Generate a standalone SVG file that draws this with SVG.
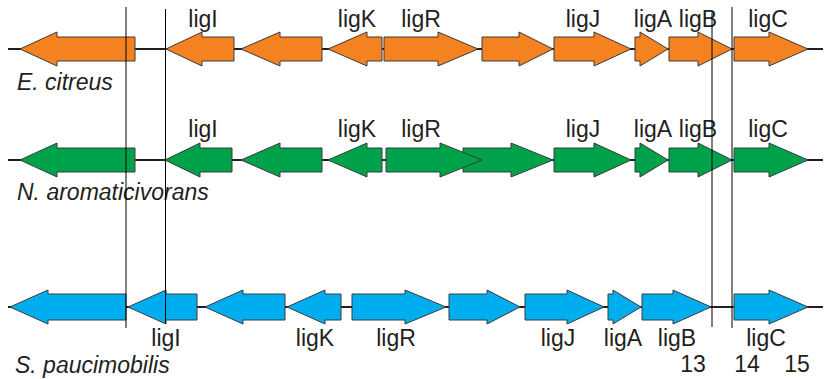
<svg xmlns="http://www.w3.org/2000/svg" width="824" height="379" viewBox="0 0 824 379">
<style>
.bb{stroke:#231f20;stroke-width:2;fill:none}
.vl{stroke:#000;stroke-width:1;fill:none}
.gene path{stroke:#3a3a3a;stroke-width:1;stroke-linejoin:miter}
.o path{fill:#f58220}
.g path{fill:#00a14b}
.b path{fill:#00aeef}
text{font-family:"Liberation Sans",Arial,sans-serif;font-size:23px;fill:#231f20}
.lab{text-anchor:middle}
.sp{font-style:italic}
</style>
<rect width="824" height="379" fill="#fff"/>
<g id="connectors">
<line class="bb" x1="8" y1="49" x2="823" y2="49"/>
<line class="bb" x1="8" y1="160" x2="823" y2="160"/>
<line class="bb" x1="8" y1="307" x2="823" y2="307"/>
</g>
<g id="row1" class="o">
<g id="ec1" class="gene"><path d="M20,49 L57,32 L57,37 L135,37 L135,61 L57,61 L57,66 Z"/></g>
<g id="ec-ligI" class="gene"><path d="M166,49 L202,32 L202,37 L234,37 L234,61 L202,61 L202,66 Z"/><text class="lab" x="203" y="27">ligI</text></g>
<g id="ec3" class="gene"><path d="M241,49 L280,32 L280,37 L322,37 L322,61 L280,61 L280,66 Z"/></g>
<g id="ec-ligK" class="gene"><path d="M328,49 L367,32 L367,37 L382,37 L382,61 L367,61 L367,66 Z"/><text class="lab" x="357" y="27">ligK</text></g>
<g id="ec-ligR" class="gene"><path d="M384,37 L438,37 L438,32 L478,49 L438,66 L438,61 L384,61 Z"/><text class="lab" x="421" y="27">ligR</text></g>
<g id="ec6" class="gene"><path d="M482,37 L519,37 L519,32 L553,49 L519,66 L519,61 L482,61 Z"/></g>
<g id="ec-ligJ" class="gene"><path d="M554,37 L594,37 L594,32 L631,49 L594,66 L594,61 L554,61 Z"/><text class="lab" x="583" y="27">ligJ</text></g>
<g id="ec-ligA" class="gene"><path d="M635,37 L640,37 L640,32 L668,49 L640,66 L640,61 L635,61 Z"/><text class="lab" x="653" y="27">ligA</text></g>
<g id="ec-ligB" class="gene"><path d="M669,37 L698,37 L698,32 L732,49 L698,66 L698,61 L669,61 Z"/><text class="lab" x="698" y="27">ligB</text></g>
<g id="ec-ligC" class="gene"><path d="M734,37 L769,37 L769,32 L808,49 L769,66 L769,61 L734,61 Z"/><text class="lab" x="768" y="27">ligC</text></g>
<text class="sp" x="17" y="90">E. citreus</text>
</g>
<g id="row2" class="g">
<g id="na1" class="gene"><path d="M20,160 L57,143 L57,148 L135,148 L135,172 L57,172 L57,177 Z"/></g>
<g id="na-ligI" class="gene"><path d="M165,160 L200,143 L200,148 L232,148 L232,172 L200,172 L200,177 Z"/><text class="lab" x="203" y="137">ligI</text></g>
<g id="na3" class="gene"><path d="M241,160 L280,143 L280,148 L322,148 L322,172 L280,172 L280,177 Z"/></g>
<g id="na-ligK" class="gene"><path d="M328,160 L367,143 L367,148 L382,148 L382,172 L367,172 L367,177 Z"/><text class="lab" x="357" y="137">ligK</text></g>
<g id="na6" class="gene"><path d="M463,148 L511,148 L511,143 L553,160 L511,177 L511,172 L463,172 Z"/></g>
<g id="na-ligR" class="gene"><path d="M386,148 L440,148 L440,143 L482,160 L440,177 L440,172 L386,172 Z"/><text class="lab" x="421" y="137">ligR</text></g>
<g id="na-ligJ" class="gene"><path d="M554,148 L594,148 L594,143 L631,160 L594,177 L594,172 L554,172 Z"/><text class="lab" x="583" y="137">ligJ</text></g>
<g id="na-ligA" class="gene"><path d="M635,148 L640,148 L640,143 L668,160 L640,177 L640,172 L635,172 Z"/><text class="lab" x="653" y="137">ligA</text></g>
<g id="na-ligB" class="gene"><path d="M669,148 L698,148 L698,143 L732,160 L698,177 L698,172 L669,172 Z"/><text class="lab" x="698" y="137">ligB</text></g>
<g id="na-ligC" class="gene"><path d="M734,148 L769,148 L769,143 L808,160 L769,177 L769,172 L734,172 Z"/><text class="lab" x="768" y="137">ligC</text></g>
<text class="sp" x="17" y="200">N. aromaticivorans</text>
</g>
<g id="row3" class="b">
<g id="sp1" class="gene"><path d="M10,307 L48,290 L48,294 L126,294 L126,320 L48,320 L48,324 Z"/></g>
<g id="sp-ligI" class="gene"><path d="M128,307 L166,290 L166,294 L197,294 L197,320 L166,320 L166,324 Z"/><text class="lab" x="166" y="346">ligI</text></g>
<g id="sp3" class="gene"><path d="M205,307 L243,290 L243,294 L285,294 L285,320 L243,320 L243,324 Z"/></g>
<g id="sp-ligK" class="gene"><path d="M287,307 L325,290 L325,294 L341,294 L341,320 L325,320 L325,324 Z"/><text class="lab" x="315" y="346">ligK</text></g>
<g id="sp-ligR" class="gene"><path d="M352,294 L405,294 L405,290 L446,307 L405,324 L405,320 L352,320 Z"/><text class="lab" x="396" y="346">ligR</text></g>
<g id="sp6" class="gene"><path d="M449,294 L487,294 L487,290 L520,307 L487,324 L487,320 L449,320 Z"/></g>
<g id="sp-ligJ" class="gene"><path d="M525,294 L567,294 L567,290 L604,307 L567,324 L567,320 L525,320 Z"/><text class="lab" x="558" y="346">ligJ</text></g>
<g id="sp-ligA" class="gene"><path d="M608,294 L613,294 L613,290 L641,307 L613,324 L613,320 L608,320 Z"/><text class="lab" x="623" y="346">ligA</text></g>
<g id="sp-ligB" class="gene"><path d="M642,294 L673,294 L673,290 L711,307 L673,324 L673,320 L642,320 Z"/><text class="lab" x="677" y="346">ligB</text></g>
<g id="sp-ligC" class="gene"><path d="M734,294 L769,294 L769,290 L808,307 L769,324 L769,320 L734,320 Z"/><text class="lab" x="766" y="346">ligC</text></g>
<text class="sp" x="15" y="373">S. paucimobilis</text>
</g>
<g id="markers">
<line class="vl" x1="126" y1="7" x2="126" y2="328"/>
<line class="vl" x1="165.5" y1="9" x2="165.5" y2="323"/>
<line class="vl" x1="712" y1="13" x2="712" y2="327"/>
<line class="vl" x1="732" y1="7" x2="732" y2="328"/>
<text class="lab" x="693" y="372">13</text>
<text class="lab" x="747" y="372">14</text>
<text class="lab" x="797" y="372">15</text>
</g>
</svg>
